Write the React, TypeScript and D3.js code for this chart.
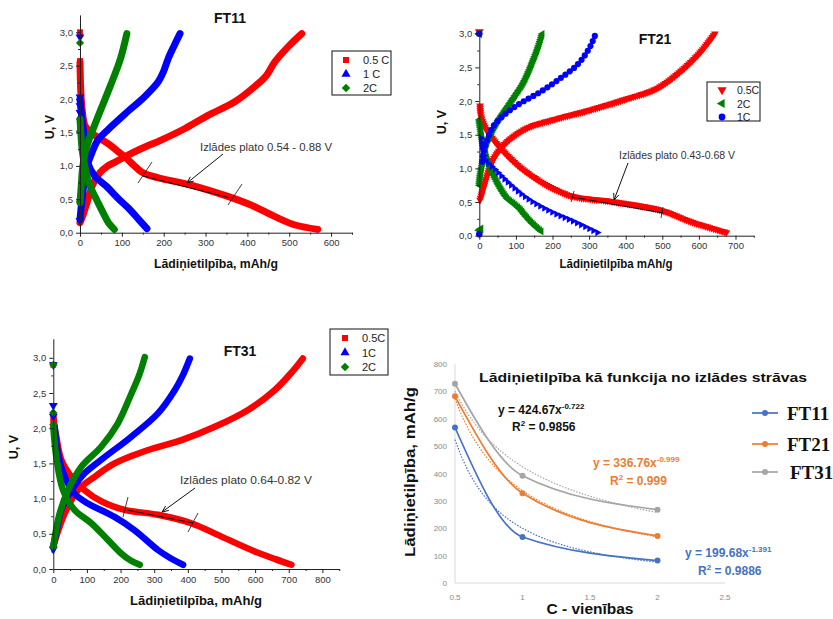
import React, { useEffect, useRef } from "react";
import * as d3 from "d3";

type Pt = [number, number];

// ---- FT11 : capacity (mAh/g), voltage (V)
const ft11Dis05: Pt[] = [[0, 2.55], [2, 2.1], [5, 1.85], [12, 1.6], [25, 1.5], [45, 1.42], [68, 1.33], [90, 1.22], [108, 1.13], [130, 1.0], [147, 0.91], [170, 0.85], [195, 0.81], [267, 0.71], [355, 0.54], [410, 0.41], [466, 0.24], [514, 0.115], [568, 0.05]];
const ft11Ch05: Pt[] = [[0, 0.15], [8, 0.28], [16, 0.44], [32, 0.74], [48, 0.9], [64, 0.99], [85, 1.06], [108, 1.14], [147, 1.26], [195, 1.39], [251, 1.56], [307, 1.76], [370, 1.96], [418, 2.19], [445, 2.35], [466, 2.56], [500, 2.8], [530, 2.98]];
const ft11Ch1: Pt[] = [[0, 0.2], [4, 0.45], [10, 0.75], [19, 1.04], [30, 1.22], [42, 1.38], [68, 1.55], [108, 1.78], [155, 2.04], [187, 2.26], [200, 2.42], [211, 2.61], [225, 2.8], [239, 2.98]];
const ft11Dis1: Pt[] = [[0, 2.0], [3, 1.8], [8, 1.54], [13, 1.3], [19, 1.04], [35, 0.85], [64, 0.69], [90, 0.52], [120, 0.34], [140, 0.2], [160, 0.06]];
const ft11Ch2: Pt[] = [[0, 0.45], [3, 0.7], [6, 0.95], [12, 1.19], [22, 1.4], [40, 1.69], [72, 2.19], [96, 2.59], [112, 2.98]];
const ft11Dis2: Pt[] = [[0, 1.7], [2, 1.5], [5, 1.25], [10, 1.05], [18, 0.82], [28, 0.64], [40, 0.49], [55, 0.3], [68, 0.15], [82, 0.05]];
const ft11Dots05: Pt[] = [[0, 3.0], [0, 2.57]];
const ft11Dots1: Pt[] = [[0, 2.93], [0, 2.03], [0, 1.9], [0, 1.8], [0, 0.18]];
const ft11Dots2: Pt[] = [[0, 2.84], [0, 1.7], [0, 1.52], [0, 0.46]];

// ---- FT21
const ft21Dis05: Pt[] = [[2, 1.93], [4, 1.79], [10, 1.68], [22, 1.55], [58, 1.3], [104, 1.05], [168, 0.8], [222, 0.65], [259, 0.58], [368, 0.505], [495, 0.38], [577, 0.21], [630, 0.12], [680, 0.04]];
const ft21Ch05: Pt[] = [[2, 0.53], [12, 0.72], [22, 0.9], [40, 1.15], [77, 1.4], [131, 1.6], [213, 1.74], [304, 1.87], [395, 2.02], [486, 2.19], [550, 2.44], [605, 2.73], [646, 3.02]];
const ft21Ch1: Pt[] = [[8, 1.1], [14, 1.3], [22, 1.42], [31, 1.55], [40, 1.64], [67, 1.79], [104, 1.94], [168, 2.14], [222, 2.34], [268, 2.54], [300, 2.78], [318, 3.0]];
const ft21Dis1: Pt[] = [[5, 1.45], [8, 1.3], [12, 1.2], [20, 1.1], [40, 1.0], [77, 0.8], [131, 0.555], [195, 0.36], [259, 0.21], [327, 0.035]];
const ft21Ch2: Pt[] = [[0, 0.75], [3, 0.9], [8, 1.05], [14, 1.22], [22, 1.4], [49, 1.69], [86, 1.99], [122, 2.29], [149, 2.63], [162, 2.82], [172, 3.0]];
const ft21Dis2: Pt[] = [[0, 1.72], [3, 1.6], [8, 1.42], [13, 1.3], [22, 1.13], [31, 1.0], [45, 0.83], [58, 0.7], [75, 0.56], [95, 0.47], [110, 0.4], [125, 0.3], [145, 0.18], [172, 0.05]];
const ft21Dots05: Pt[] = [[0, 3.03]];
const ft21Dots2: Pt[] = [[0, 3.0], [0, 0.08], [4, 0.1]];
const ft21Dots1: Pt[] = [[0, 3.0], [0, 0.02]];

// ---- FT31
const ft31Dis05: Pt[] = [[0, 2.2], [3, 2.05], [9, 1.88], [24, 1.55], [54, 1.31], [93, 1.12], [143, 0.96], [212, 0.84], [311, 0.77], [410, 0.65], [500, 0.46], [599, 0.25], [660, 0.14], [708, 0.06]];
const ft31Ch05: Pt[] = [[0, 0.32], [15, 0.55], [34, 0.79], [73, 1.12], [123, 1.31], [182, 1.5], [282, 1.69], [381, 1.83], [480, 2.02], [579, 2.26], [658, 2.54], [710, 2.8], [742, 2.99]];
const ft31Ch1: Pt[] = [[0, 0.32], [10, 0.55], [24, 0.84], [54, 1.12], [93, 1.36], [153, 1.59], [232, 1.88], [311, 2.21], [361, 2.54], [385, 2.75], [406, 2.99]];
const ft31Dis1: Pt[] = [[4, 2.02], [14, 1.64], [34, 1.31], [63, 1.07], [103, 0.93], [182, 0.74], [242, 0.55], [311, 0.27], [350, 0.15], [386, 0.06]];
const ft31Ch2: Pt[] = [[0, 0.32], [8, 0.55], [19, 0.79], [44, 1.12], [83, 1.45], [143, 1.74], [192, 2.07], [232, 2.49], [255, 2.75], [272, 3.01]];
const ft31Dis2: Pt[] = [[0, 2.02], [9, 1.59], [29, 1.12], [63, 0.84], [113, 0.65], [163, 0.41], [202, 0.22], [230, 0.12], [257, 0.06]];
const ft31Dots05: Pt[] = [[0, 2.9], [0, 2.1]];
const ft31Dots1: Pt[] = [[0, 2.9], [0, 2.32], [0, 2.17], [0, 0.28]];
const ft31Dots2: Pt[] = [[0, 2.9], [0, 2.22], [0, 2.05], [0, 0.32]];

// ---- capacity vs C-rate
const cRates = [0.5, 1, 2];
const capFT11 = [568, 168, 82];
const capFT21 = [682, 328, 172];
const capFT31 = [728, 392, 268];
const trendA = [199.68, 336.76, 424.67];
const trendB = [-1.391, -0.999, -0.722];
const trendR2 = ["0.9886", "0.999", "0.9856"];
const sampleNames = ["FT11", "FT21", "FT31"];

const SANS = "'Liberation Sans', Arial, sans-serif";
const RED = "#ff0000";
const BLUE = "#0000ff";
const GREEN = "#008000";

function symbolOf(shape: string, size: number) {
  const t =
    shape === "circle" ? d3.symbolCircle : shape === "square" || shape === "diamond" ? d3.symbolSquare : d3.symbolTriangle;
  const rot = { square: 0, circle: 0, diamond: 45, up: 0, down: 180, left: -90, right: 90 }[shape] || 0;
  return { d: d3.symbol().type(t).size(size)() as string, rot };
}

function drawOrigin(svg: any, cfg: any) {
  const x = d3.scaleLinear().domain(cfg.xDomain).range([cfg.left, cfg.right]);
  const y = d3.scaleLinear().domain(cfg.yDomain).range([cfg.bottom, cfg.top]);
  const g = svg.append("g").attr("font-family", SANS);
  const line = d3
    .line<Pt>()
    .x((d) => x(d[0]))
    .y((d) => y(d[1]))
    .curve(d3.curveCatmullRom.alpha(0.5));

  cfg.series.forEach((s: any) => {
    s.curves.forEach((c: any) => {
      const p = g
        .append("path")
        .attr("d", line(c.data))
        .attr("fill", "none")
        .attr("stroke", cfg.markers ? "none" : s.color)
        .attr("stroke-width", cfg.lineWidth)
        .attr("stroke-linejoin", "round")
        .attr("stroke-linecap", "round");
      if (cfg.markers) {
        const node = p.node() as SVGPathElement;
        const len = node.getTotalLength();
        const sym = symbolOf(c.shape, c.size);
        for (let l = 0; l <= len; l += c.step) {
          const pt = node.getPointAtLength(l);
          g.append("path")
            .attr("d", sym.d)
            .attr("transform", `translate(${pt.x},${pt.y}) rotate(${sym.rot})`)
            .attr("fill", s.color);
        }
      }
    });
    const dsym = symbolOf(s.dotShape, cfg.dotSize);
    s.dots.forEach((d: Pt) => {
      g.append("path")
        .attr("d", dsym.d)
        .attr("transform", `translate(${x(d[0])},${y(d[1])}) rotate(${dsym.rot})`)
        .attr("fill", s.color);
    });
  });

  // axes
  const styleAxis = (a: any) => {
    a.attr("font-family", SANS).attr("font-size", 9.5);
    a.selectAll("line").attr("stroke", "#222");
    a.selectAll(".domain").attr("stroke", "#222");
    a.selectAll("text").attr("fill", "#333");
  };
  const xMinor = d3.range(50, cfg.xDomain[1] + 1, 100);
  g.append("g")
    .attr("transform", `translate(0,${cfg.bottom})`)
    .call(d3.axisBottom(x).tickValues(xMinor).tickSize(2).tickFormat(() => ""))
    .call((a: any) => { a.select(".domain").remove(); a.selectAll("line").attr("stroke", "#222"); });
  const xa = g
    .append("g")
    .attr("transform", `translate(0,${cfg.bottom})`)
    .call(d3.axisBottom(x).tickValues(cfg.xTicks).tickSize(4).tickSizeOuter(0).tickPadding(3).tickFormat(d3.format("d")));
  styleAxis(xa);

  g.append("g")
    .attr("transform", `translate(${cfg.left},0)`)
    .call(d3.axisLeft(y).tickValues([0.25, 0.75, 1.25, 1.75, 2.25, 2.75]).tickSize(2).tickFormat(() => ""))
    .call((a: any) => { a.select(".domain").remove(); a.selectAll("line").attr("stroke", "#222"); });
  const ya = g
    .append("g")
    .attr("transform", `translate(${cfg.left},0)`)
    .call(
      d3.axisLeft(y)
        .tickValues([0, 0.5, 1, 1.5, 2, 2.5, 3])
        .tickSize(4)
        .tickSizeOuter(0)
        .tickPadding(3)
        .tickFormat((v: any) => d3.format(".1f")(v).replace(".", ","))
    );
  styleAxis(ya);

  // titles
  g.append("text").attr("x", cfg.title[1]).attr("y", cfg.title[2]).attr("text-anchor", "middle")
    .attr("font-size", 14).attr("font-weight", "bold").attr("fill", "#111").text(cfg.title[0]);
  g.append("text").attr("x", cfg.xLabel[1]).attr("y", cfg.xLabel[2]).attr("text-anchor", "middle")
    .attr("font-size", 12).attr("font-weight", "bold").attr("fill", "#111")
    .attr("textLength", cfg.xLabel[3]).attr("lengthAdjust", "spacingAndGlyphs").text(cfg.xLabel[0]);
  g.append("text").attr("transform", `translate(${cfg.yLabel[0]},${cfg.yLabel[1]}) rotate(-90)`)
    .attr("text-anchor", "middle").attr("font-size", 12.5).attr("font-weight", "bold").attr("fill", "#111").text("U, V");

  // legend
  const lg = cfg.legend;
  g.append("rect").attr("x", lg.x).attr("y", lg.y).attr("width", lg.w).attr("height", lg.h)
    .attr("fill", "#fff").attr("stroke", "#111").attr("stroke-width", 1);
  lg.items.forEach((it: any, i: number) => {
    const sym = symbolOf(it.shape, 36);
    const cy = lg.y + lg.first + i * lg.gap;
    g.append("path").attr("d", sym.d).attr("transform", `translate(${lg.x + lg.mx},${cy}) rotate(${sym.rot})`).attr("fill", it.color);
    g.append("text").attr("x", lg.x + lg.tx).attr("y", cy + 4).attr("font-size", lg.fs).attr("fill", "#222").text(it.label);
  });

  // plateau annotation
  const an = cfg.note;
  const ag = g.append("g").attr("stroke", "#111").attr("fill", "none").attr("stroke-width", 1);
  ag.append("line").attr("x1", an.line[0]).attr("y1", an.line[1]).attr("x2", an.line[2]).attr("y2", an.line[3]);
  an.slashes.forEach((s: number[]) =>
    ag.append("line").attr("x1", s[0]).attr("y1", s[1]).attr("x2", s[2]).attr("y2", s[3]).attr("stroke-width", 0.8)
  );
  const [x1, y1, x2, y2] = an.arrow;
  ag.append("line").attr("x1", x1).attr("y1", y1).attr("x2", x2).attr("y2", y2);
  const ang = Math.atan2(y2 - y1, x2 - x1);
  const L = 7;
  ag.append("path").attr(
    "d",
    d3.line()([
      [x2 - L * Math.cos(ang - 0.4), y2 - L * Math.sin(ang - 0.4)],
      [x2, y2],
      [x2 - L * Math.cos(ang + 0.4), y2 - L * Math.sin(ang + 0.4)],
    ]) as string
  );
  g.append("text").attr("x", an.text[1]).attr("y", an.text[2]).attr("font-size", 10).attr("fill", "#333")
    .attr("textLength", an.text[3]).attr("lengthAdjust", "spacingAndGlyphs").text(an.text[0]);
}

function drawRateChart(svg: any) {
  const x = d3.scaleLinear().domain([0.5, 2.5]).range([455, 725]);
  const y = d3.scaleLinear().domain([0, 800]).range([583, 364]);
  const g = svg.append("g").attr("font-family", SANS);
  const colors = ["#4472C4", "#ED7D31", "#A5A5A5"];
  const caps = [capFT11, capFT21, capFT31];

  g.append("line").attr("x1", x(0.5)).attr("x2", x(0.5)).attr("y1", y(0)).attr("y2", y(800)).attr("stroke", "#d9d9d9");
  g.append("line").attr("x1", x(0.5)).attr("x2", x(2.5)).attr("y1", y(0)).attr("y2", y(0)).attr("stroke", "#d9d9d9");
  d3.range(0, 801, 100).forEach((v) =>
    g.append("text").attr("x", 447).attr("y", y(v) + 3).attr("text-anchor", "end").attr("font-size", 8).attr("fill", "#8a8a8a").text(v)
  );
  [0.5, 1, 1.5, 2, 2.5].forEach((v) =>
    g.append("text").attr("x", x(v)).attr("y", 600).attr("text-anchor", "middle").attr("font-size", 8).attr("fill", "#8a8a8a").text(v)
  );

  const line = d3.line<Pt>().x((d) => x(d[0])).y((d) => y(d[1])).curve(d3.curveMonotoneX);
  const trendX = d3.range(0.5, 2.0001, 0.05);
  // draw order: gray, orange, blue
  [2, 1, 0].forEach((i) => {
    const pts: Pt[] = cRates.map((c, j) => [c, caps[i][j]]);
    const trend: Pt[] = trendX.map((c) => [c, trendA[i] * Math.pow(c, trendB[i])]);
    g.append("path").attr("d", d3.line<Pt>().x((d) => x(d[0])).y((d) => y(d[1]))(trend)).attr("fill", "none")
      .attr("stroke", colors[i]).attr("stroke-width", 1.2).attr("stroke-dasharray", "1.5,1.5");
    g.append("path").attr("d", line(pts)).attr("fill", "none").attr("stroke", colors[i]).attr("stroke-width", 1.7);
    pts.forEach((p) => g.append("circle").attr("cx", x(p[0])).attr("cy", y(p[1])).attr("r", 3).attr("fill", colors[i]));
  });

  g.append("text").attr("x", 643).attr("y", 382).attr("text-anchor", "middle").attr("font-size", 13.5)
    .attr("font-weight", "bold").attr("fill", "#111").attr("textLength", 328).attr("lengthAdjust", "spacingAndGlyphs")
    .text("Lādiņietilpība kā funkcija no izlādes strāvas");
  g.append("text").attr("transform", "translate(415,472) rotate(-90)").attr("text-anchor", "middle").attr("font-size", 14)
    .attr("font-weight", "bold").attr("fill", "#111").attr("textLength", 170).attr("lengthAdjust", "spacingAndGlyphs")
    .text("Lādiņietilpība, mAh/g");
  g.append("text").attr("x", 590).attr("y", 614).attr("text-anchor", "middle").attr("font-size", 14)
    .attr("font-weight", "bold").attr("fill", "#111").attr("textLength", 87).attr("lengthAdjust", "spacingAndGlyphs")
    .text("C - vienības");

  // trend equations
  const eqPos = [[685, 557, 698, 575], [593, 467, 610, 485], [498, 414, 512, 431]];
  const eqColor = ["#4472C4", "#ED7D31", "#111"];
  [0, 1, 2].forEach((i) => {
    const t = g.append("text").attr("x", eqPos[i][0]).attr("y", eqPos[i][1]).attr("font-size", 12)
      .attr("font-weight", "bold").attr("fill", eqColor[i]);
    t.append("tspan").text(`y = ${trendA[i].toFixed(2)}x`);
    t.append("tspan").attr("dy", -5).attr("font-size", 8).text(trendB[i].toFixed(3));
    const r = g.append("text").attr("x", eqPos[i][2]).attr("y", eqPos[i][3]).attr("font-size", 12)
      .attr("font-weight", "bold").attr("fill", eqColor[i]);
    r.append("tspan").text("R");
    r.append("tspan").attr("dy", -5).attr("font-size", 8).text("2");
    r.append("tspan").attr("dy", 5).text(` = ${trendR2[i]}`);
  });

  // legend
  const legY = [413, 444, 472];
  const legTx = [787, 787, 790];
  [0, 1, 2].forEach((i) => {
    g.append("line").attr("x1", 752).attr("x2", 778).attr("y1", legY[i]).attr("y2", legY[i]).attr("stroke", colors[i]).attr("stroke-width", 1.7);
    g.append("circle").attr("cx", 765).attr("cy", legY[i]).attr("r", 3).attr("fill", colors[i]);
    g.append("text").attr("x", legTx[i]).attr("y", legY[i] + 7).attr("font-family", "'Liberation Serif', 'Times New Roman', serif")
      .attr("font-size", 19).attr("font-weight", "bold").attr("fill", "#111").text(sampleNames[i]);
  });
}

function App() {
  const ref = useRef<SVGSVGElement>(null);

  useEffect(() => draw(), []);

  function draw() {
    const svg = d3.select(ref.current);
    svg.selectAll("*").remove();

    drawOrigin(svg, {
      xDomain: [0, 650], yDomain: [0, 3.26], left: 80, right: 352, top: 14.9, bottom: 232.7,
      xTicks: d3.range(0, 601, 100), lineWidth: 7, dotSize: 34, markers: false,
      series: [
        { color: RED, dotShape: "square", dots: ft11Dots05, curves: [{ data: ft11Dis05 }, { data: ft11Ch05 }] },
        { color: BLUE, dotShape: "down", dots: ft11Dots1, curves: [{ data: ft11Dis1 }, { data: ft11Ch1 }] },
        { color: GREEN, dotShape: "diamond", dots: ft11Dots2, curves: [{ data: ft11Dis2 }, { data: ft11Ch2 }] },
      ],
      title: ["FT11", 230, 23],
      xLabel: ["Lādiņietilpība, mAh/g", 216, 268, 124],
      yLabel: [54, 127],
      legend: { x: 332, y: 51, w: 59, h: 44, first: 9, gap: 14, mx: 14, tx: 31, fs: 11,
        items: [{ shape: "square", color: RED, label: "0.5 C" }, { shape: "up", color: BLUE, label: "1 C" }, { shape: "diamond", color: GREEN, label: "2C" }] },
      note: { text: ["Izlādes plato 0.54 - 0.88 V", 200, 151, 132], arrow: [223, 154, 187, 183],
        line: [143, 176, 230, 198], slashes: [[138, 183, 152, 162], [228, 205, 242, 184]] },
    });

    drawOrigin(svg, {
      xDomain: [0, 750], yDomain: [0, 3.03], left: 479.3, right: 753.8, top: 31.7, bottom: 235.7,
      xTicks: d3.range(0, 701, 100), lineWidth: 6, dotSize: 34, markers: true,
      series: [
        { color: RED, dotShape: "down", dots: ft21Dots05, curves: [{ data: ft21Dis05, shape: "down", size: 26, step: 2.2 }, { data: ft21Ch05, shape: "down", size: 26, step: 2.2 }] },
        { color: GREEN, dotShape: "left", dots: ft21Dots2, curves: [{ data: ft21Dis2, shape: "left", size: 26, step: 2 }, { data: ft21Ch2, shape: "left", size: 26, step: 2 }] },
        { color: BLUE, dotShape: "circle", dots: ft21Dots1, curves: [{ data: ft21Dis1, shape: "right", size: 22, step: 4.5 }, { data: ft21Ch1, shape: "circle", size: 30, step: 5.5 }] },
      ],
      title: ["FT21", 655, 44],
      xLabel: ["Lādiņietilpība mAh/g", 616, 268, 113],
      yLabel: [446, 122],
      legend: { x: 707, y: 82, w: 53, h: 39, first: 8, gap: 13.5, mx: 15, tx: 30, fs: 10.5,
        items: [{ shape: "down", color: RED, label: "0.5C" }, { shape: "left", color: GREEN, label: "2C" }, { shape: "circle", color: BLUE, label: "1C" }] },
      note: { text: ["Izlādes plato 0.43-0.68 V", 619, 159, 116], arrow: [628, 163, 614, 200],
        line: [572, 197, 663, 213], slashes: [[571, 202, 574, 191], [661, 218, 663, 207]] },
    });

    drawOrigin(svg, {
      xDomain: [0, 850], yDomain: [0, 3.27], left: 53.3, right: 339.2, top: 338.8, bottom: 569,
      xTicks: d3.range(0, 801, 100), lineWidth: 6.5, dotSize: 34, markers: false,
      series: [
        { color: RED, dotShape: "square", dots: ft31Dots05, curves: [{ data: ft31Dis05 }, { data: ft31Ch05 }] },
        { color: BLUE, dotShape: "down", dots: ft31Dots1, curves: [{ data: ft31Dis1 }, { data: ft31Ch1 }] },
        { color: GREEN, dotShape: "diamond", dots: ft31Dots2, curves: [{ data: ft31Dis2 }, { data: ft31Ch2 }] },
      ],
      title: ["FT31", 240, 356],
      xLabel: ["Lādiņietilpība, mAh/g", 196, 605, 132],
      yLabel: [18, 447],
      legend: { x: 330, y: 329, w: 58, h: 46, first: 9, gap: 14.5, mx: 15, tx: 32, fs: 11,
        items: [{ shape: "square", color: RED, label: "0.5C" }, { shape: "up", color: BLUE, label: "1C" }, { shape: "diamond", color: GREEN, label: "2C" }] },
      note: { text: ["Izlādes plato 0.64-0.82 V", 180, 484, 132], arrow: [195, 488, 162, 512],
        line: [127, 510, 193, 523], slashes: [[123, 517, 128, 497], [188, 532, 198, 513]] },
    });

    drawRateChart(svg);
  }

  return (
    <div style={{ position: "absolute", left: 0, top: 0 }}>
      <svg ref={ref} width={833} height={619} style={{ display: "block", background: "#fff" }} />
    </div>
  );
}

export default App;
